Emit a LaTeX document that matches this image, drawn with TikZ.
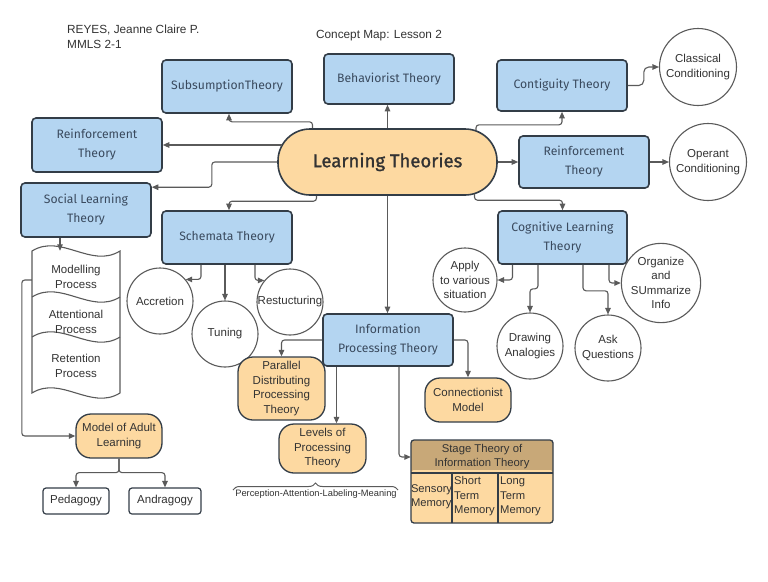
\documentclass[tikz,border=0pt]{standalone}
\usepackage{fontspec}
\setmainfont{Liberation Sans}
\newfontfamily\hand{Fira Sans}
\newfontfamily\handb{Fira Sans}[FakeBold=1.3]
\usetikzlibrary{arrows.meta,calc,decorations.pathreplacing}
\definecolor{bfill}{HTML}{B4D5F1}
\definecolor{bdraw}{HTML}{333D47}
\definecolor{ofill}{HTML}{FDD9A1}
\definecolor{tanfill}{HTML}{C8A878}
\definecolor{lcol}{HTML}{5A5A5A}
\definecolor{btext}{HTML}{3A4A5E}
\definecolor{ctext}{HTML}{333333}
\tikzset{
 bluebox/.style={draw=bdraw, line width=1.6pt, fill=bfill, rounded corners=4pt, inner sep=0pt, align=center, text=btext, font=\hand\fontsize{12.2}{19}\selectfont, minimum width=130pt, minimum height=52pt},
 circ/.style={circle, draw=lcol, line width=1.1pt, fill=white, inner sep=0pt, align=center, text=ctext, font=\fontsize{11.5}{14.5}\selectfont, minimum size=66pt},
 obox/.style={draw=bdraw, line width=1.3pt, fill=ofill, rounded corners=15pt, inner sep=0pt, align=center, text=ctext, font=\fontsize{11.5}{14.5}\selectfont},
 wbox/.style={draw=bdraw, line width=1.2pt, fill=white, rounded corners=3pt, inner sep=0pt, align=center, text=ctext, font=\fontsize{11.5}{13}\selectfont},
 conn/.style={draw=lcol, line width=1.1pt, rounded corners=3pt, -{Triangle[length=6.5pt,width=5.5pt]}},
 plaintext/.style={inner sep=0pt, align=center, text=ctext, font=\fontsize{11.5}{14.5}\selectfont},
 cell/.style={inner sep=0pt, align=left, anchor=west, text=ctext, font=\fontsize{11.2}{14.5}\selectfont},
}
\begin{document}
\begin{tikzpicture}[x=1pt,y=-1pt]
\useasboundingbox[fill=white] (0,0) rectangle (768,581);

% titles
\node[anchor=west, align=left, inner sep=0pt, text=ctext, font=\fontsize{11.8}{15}\selectfont] (author) at (67,36.5) {REYES, Jeanne Claire P.\\MMLS 2-1};
\node[inner sep=0pt, text=ctext, font=\fontsize{11.8}{13}\selectfont] (title) at (379,36) {Concept Map: Lesson 2};

% blue boxes
\node[bluebox, minimum height=53pt] (sub) at (227,86.5) {SubsumptionTheory};
\node[bluebox, minimum height=54pt] (reinfL) at (97,145) {Reinforcement\\Theory};
\node[bluebox, minimum height=54pt] (social) at (86,210) {Social Learning\\Theory};
\node[bluebox, minimum height=50pt] (beh) at (389,79) {Behaviorist Theory};
\node[bluebox, minimum height=51pt] (cont) at (562,85.5) {Contiguity Theory};
\node[bluebox, minimum height=52pt] (reinfR) at (584,162) {Reinforcement\\Theory};
\node[bluebox, minimum width=129pt, minimum height=53pt] (cog) at (562.5,237.5) {Cognitive Learning\\Theory};
\node[bluebox, minimum height=53pt] (sch) at (227,237.5) {Schemata Theory};
\node[bluebox, minimum height=52pt] (ip) at (388,340) {Information\\Processing Theory};

% central
\node[bluebox, fill=ofill, draw=bdraw, rounded corners=32pt, minimum width=219pt, minimum height=66pt, text=ctext, font=\handb\fontsize{18.5}{20}\selectfont] (lt) at (387.5,162) {Learning Theories};

% circles
\node[circ, minimum size=77pt, font=\fontsize{11.5}{15}\selectfont] (cc) at (698,67) {Classical\\Conditioning};
\node[circ, minimum size=77pt, font=\fontsize{11.5}{15}\selectfont] (oc) at (708,162) {Operant\\Conditioning};
\node[circ] (acc) at (160,301) {Accretion};
\node[circ] (tun) at (225,334) {Tuning};
\node[circ] (res) at (290,302) {Restucturing};
\node[circ, minimum size=64pt] (app) at (465,280) {Apply\\to various\\situation};
\node[circ] (dra) at (530,346) {Drawing\\Analogies};
\node[circ] (ask) at (608,348) {Ask\\Questions};
\node[circ] (org) at (661,283) {Organize\\and\\SUmmarize\\Info};

% orange boxes
\node[obox, minimum width=87pt, minimum height=63pt] (par) at (281.5,388.5) {Parallel\\Distributing\\Processing\\Theory};
\node[obox, minimum width=87pt, minimum height=49pt] (lev) at (322.5,448.5) {Levels of\\Processing\\Theory};
\node[obox, minimum width=86pt, minimum height=44pt] (con) at (468,400) {Connectionist\\Model};
\node[obox, minimum width=86pt, minimum height=44pt] (mal) at (119,436) {Model of Adult\\Learning};
\node[wbox, minimum width=66pt, minimum height=26pt] (ped) at (76,501) {Pedagogy};
\node[wbox, minimum width=72pt, minimum height=26pt] (and) at (165,501) {Andragogy};

% stage theory table
\fill[tanfill, rounded corners=3pt] (411,440) rectangle (553,478);
\fill[ofill, rounded corners=3pt] (411,470) rectangle (553,523);
\fill[ofill] (411.6,473) rectangle (552.4,480);
\draw[bdraw, line width=1.3pt, rounded corners=3pt] (411,440) rectangle (553,523);
\draw[bdraw, line width=1.1pt] (411,473) -- (553,473);
\draw[bdraw, line width=1.1pt] (452,473) -- (452,523);
\draw[bdraw, line width=1.1pt] (498,473) -- (498,523);
\node[plaintext, minimum width=142pt, minimum height=33pt, font=\fontsize{11.3}{14}\selectfont] (sth) at (482,457) {Stage Theory of\\Information Theory};
\node[cell] (sen) at (410.8,496.5) {Sensory\\Memory};
\node[cell] (sho) at (454,496.5) {Short\\Term\\Memory};
\node[cell] (lon) at (500,496.5) {Long\\Term\\Memory};

% social learning stacked shapes
\filldraw[draw=lcol, line width=1.1pt, fill=white] (32,251) .. controls (61,233) and (91,269) .. (120,251) -- (120,393) .. controls (91,411) and (61,375) .. (32,393) -- cycle;
\draw[lcol, line width=1.1pt] (32,297) .. controls (61,279) and (91,315) .. (120,297);
\draw[lcol, line width=1.1pt] (32,337) .. controls (61,319) and (91,355) .. (120,337);
\node[plaintext, minimum width=88pt] (mod) at (76,277) {Modelling\\Process};
\node[plaintext, minimum width=88pt] (att) at (76,322) {Attentional\\Process};
\node[plaintext, minimum width=88pt] (ret) at (76,366) {Retention\\Process};

% brace
\draw[lcol, line width=1pt, decorate, decoration={brace, amplitude=7pt}] (233,490) -- (398,490);
\node[plaintext, font=\fontsize{9.3}{10}\selectfont] (pam) at (316,494.5) {Perception-Attention-Labeling-Meaning};

% connectors from Learning Theories
\draw[conn] ($(lt.north)+(-75,0)$) |- ($(sub.south)+(2,8)$) -- ($(sub.south)+(2,0)$);
\draw[conn] ($(lt.west)+(5,-17)$) -- (reinfL.east);
\draw[conn] (lt.west) -| ($(social.north east)+(60,5)$) -- ($(social.north east)+(0,5)$);
\draw[conn] ($(lt.south)+(-71,0)$) |- ($(sch.north)+(2,-9)$) -- ($(sch.north)+(2,0)$);
\draw[conn] (lt.north) -- (lt.north |- beh.south);
\draw[conn] ($(lt.north)+(88.5,2)$) |- ($(cont.south)+(0,13)$) -- (cont.south);
\draw[conn] (lt.east) -- (reinfR.west);
\draw[conn] ($(lt.south)+(87,-2)$) |- ($(cog.north)+(0,-10)$) -- (cog.north);
\draw[conn] (lt.south) -- (lt.south |- ip.north);

% other connectors
\draw[conn, rounded corners=5pt] (cont.east) -- ++(16,0) |- (cc.west);
\draw[conn] (reinfR.east) -- (oc.west);
\draw[conn] ($(sch.south)+(-26,0)$) |- (acc.40);
\draw[conn] (tun.north |- sch.south) -- (tun.north);
\draw[conn] ($(sch.south)+(28,0)$) |- (res.140);
\draw[conn] (ip.west) -| (par.north);
\draw[conn] ($(ip.south)+(-51.5,0)$) -- ($(lev.north)+(14,0)$);
\draw[conn] ($(ip.south)+(11,0)$) |- (sth.west);
\draw[conn] (ip.east) -| (con.north);
\draw[conn] ($(cog.south)+(-50,0)$) |- (app.east);
\draw[conn] ($(cog.south)+(-24.5,0)$) -- ++(0,24) -| (dra.north);
\draw[conn] ($(cog.south)+(20.5,0)$) -- ++(0,26) -| (ask.north);
\draw[conn] ($(cog.south)+(46.5,0)$) |- (org.west);
\draw[conn] ($(social.south)+(-26,0)$) -- ($(social.south)+(-26,13)$);
\draw[conn] ($(mod.west)+(0,3)$) -- ++(-10,0) |- (mal.west);
\draw[conn] (mal.south) -- ++(0,14) -| (ped.north);
\draw[conn] (mal.south) -- ++(0,14) -| (and.north);
\end{tikzpicture}
\end{document}
